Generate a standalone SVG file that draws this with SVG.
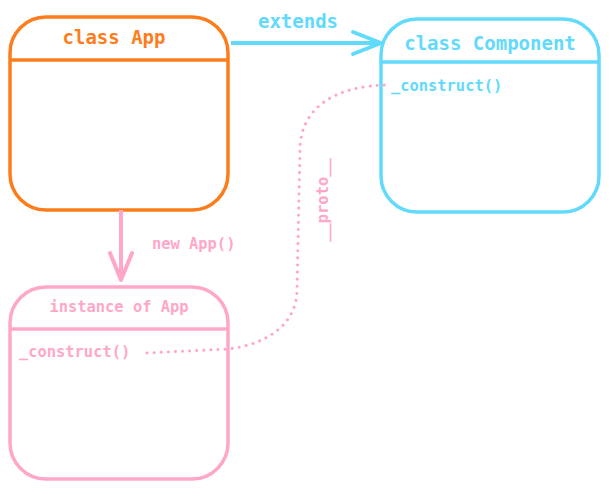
<svg xmlns="http://www.w3.org/2000/svg" width="609" height="490" viewBox="0 0 609 490">
<style>
text{font-family:"DejaVu Sans Mono","Liberation Mono",monospace;font-weight:bold}
.box{fill:none;stroke-width:3.5}
.o{stroke:#fd7d1c}
.b{stroke:#61dafb}
.p{stroke:#ffa7c8}
.to{fill:#fd7d1c}
.tb{fill:#61dafb}
.tp{fill:#ffa7c8}
.big{font-size:19px}
.sm{font-size:15.4px}
</style>
<rect width="609" height="490" fill="#fff"/>
<g id="app">
<rect class="box o" x="10" y="17" width="218" height="193" rx="36"/>
<line class="box o" x1="10" y1="60" x2="228" y2="60"/>
<text class="to big" x="114" y="44" text-anchor="middle">class App</text>
</g>
<g id="component">
<rect class="box b" x="381" y="19" width="218" height="193" rx="36"/>
<line class="box b" x1="381" y1="62" x2="599" y2="62"/>
<text class="tb big" x="490" y="50" text-anchor="middle">class Component</text>
<text class="tb sm" x="391" y="91">_construct()</text>
</g>
<g id="instance">
<rect class="box p" x="10" y="287" width="218" height="192" rx="36"/>
<line class="box p" x1="10" y1="329" x2="228" y2="329"/>
<text class="tp sm" x="119" y="312" text-anchor="middle">instance of App</text>
<text class="tp sm" x="19" y="357">_construct()</text>
</g>
<g id="connectors" fill="none" stroke-linecap="round" stroke-linejoin="round">
<line x1="231" y1="43" x2="380" y2="43" stroke="#61dafb" stroke-width="4" stroke-linecap="butt"/>
<polyline points="353,32 381,43 353,54" stroke="#61dafb" stroke-width="4"/>
<text class="tb big" x="298" y="28" text-anchor="middle" stroke="none">extends</text>
<line x1="121" y1="210" x2="121" y2="279" stroke="#ffa7c8" stroke-width="4" stroke-linecap="butt"/>
<polyline points="110,253 121,280 132,253" stroke="#ffa7c8" stroke-width="4"/>
<text class="tp sm" x="152" y="249" stroke="none">new App()</text>
<path d="M147,353 L228,349 C270,344 297,322 297,290 L300,150 C300,108 335,85 390,85" stroke="#ffa7c8" stroke-width="3" stroke-dasharray="0.1 7"/>
<text class="tp sm" transform="translate(328,200) rotate(-90)" text-anchor="middle" stroke="none">__proto__</text>
</g>
</svg>
